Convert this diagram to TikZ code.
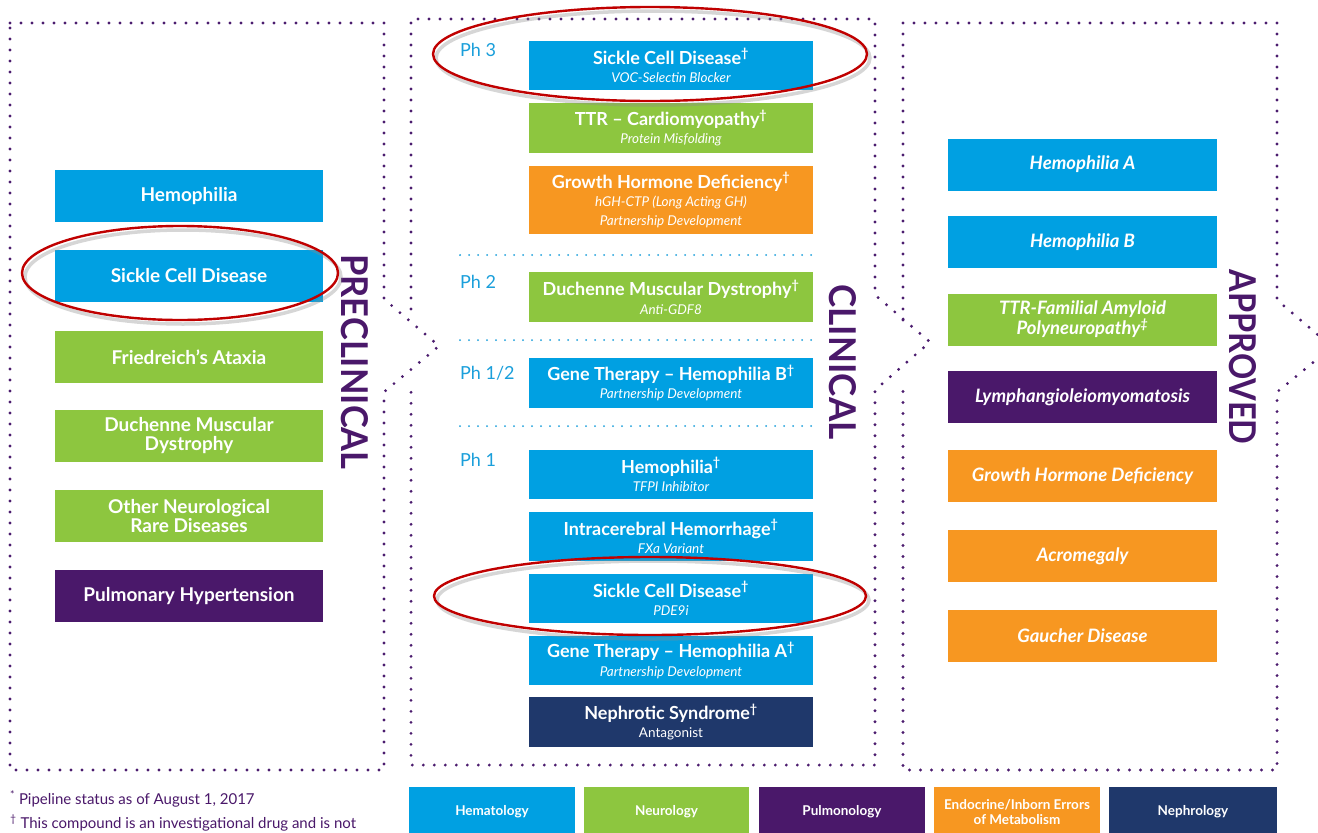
\documentclass[tikz,border=0pt]{standalone}
\usepackage{fontspec}
\setmainfont{Lato}
\usepackage{graphicx}
\definecolor{hblue}{RGB}{0,160,226}
\definecolor{ngreen}{RGB}{141,198,63}
\definecolor{eorange}{RGB}{247,151,33}
\definecolor{ppurple}{RGB}{74,24,106}
\definecolor{nnavy}{RGB}{31,56,107}
\definecolor{dotpurple}{RGB}{75,28,110}
\definecolor{phblue}{RGB}{26,159,219}
\definecolor{ered}{RGB}{192,0,0}
\newcommand\dg{\textsuperscript{†}}
\newcommand\subt[1]{{\fontsize{13.5}{15}\selectfont\mdseries\itshape #1}}
\tikzset{
  dots/.style={draw=dotpurple, line width=3.2pt, line cap=round, dash pattern=on 0pt off 11pt},
  sepline/.style={draw=phblue, line width=2pt, line cap=round, dash pattern=on 0pt off 9pt},
  lbox/.style={rectangle, inner sep=0pt, minimum width=268pt, minimum height=52pt, text=white, align=center,
    font=\fontsize{19}{20}\selectfont\bfseries},
  mbox/.style={rectangle, inner sep=0pt, minimum width=284pt, text=white, align=center,
    font=\fontsize{18}{18.5}\selectfont\bfseries},
  rbox/.style={rectangle, inner sep=0pt, minimum width=269pt, minimum height=52pt, text=white, align=center,
    font=\fontsize{18.5}{19}\selectfont\bfseries\itshape},
  legbox/.style={rectangle, inner sep=0pt, minimum height=50pt, text=white, align=center,
    font=\fontsize{13.5}{15}\selectfont\bfseries},
  phlab/.style={anchor=west, text=phblue, font=\fontsize{18}{19}\selectfont, inner sep=0pt},
  vlab/.style={rotate=-90, text=ppurple, inner sep=0pt, font=\bfseries},
  redell/.style={draw=ered, line width=2.4pt},
  shadell/.style={draw=black!45, opacity=0.35, line width=3.5pt},
  foot/.style={anchor=west, text=ppurple, font=\fontsize{15}{16}\selectfont, inner sep=0pt}
}
\begin{document}
\begin{tikzpicture}[x=1pt,y=-1pt]
\clip (0,0) rectangle (1318,833);
\fill[white] (0,0) rectangle (1318,833);

% dotted stage outlines
\draw[dots] (10,23) -- (384,23) -- (384,299) -- (439,346) -- (384,392) -- (384,770) -- (10,770) -- cycle;
\draw[dots] (411,309) -- (411,19) -- (875,19) -- (875,295) -- (930,342) -- (875,390) -- (875,765) -- (411,765) -- (411,387);
\draw[dots] (903,320) -- (903,23) -- (1277,23) -- (1277,300) -- (1332,347) -- (1277,392) -- (1277,770) -- (903,770) -- (903,390);

% vertical stage labels
\node[vlab] (preLab) at (355,362) {\resizebox{215pt}{27pt}{PRECLINICAL}};
\node[vlab] (cliLab) at (843,362) {\resizebox{155pt}{27pt}{CLINICAL}};
\node[vlab] (appLab) at (1243,357) {\resizebox{175pt}{27pt}{APPROVED}};

% preclinical
\node[lbox, fill=hblue] (p1) at (189,196) {Hemophilia};
\node[lbox, fill=hblue] (p2) at (189,276) {Sickle Cell Disease};
\node[lbox, fill=ngreen] (p3) at (189,357) {Friedreich’s Ataxia};
\node[lbox, fill=ngreen] (p4) at (189,436) {Duchenne Muscular\\[-1pt]Dystrophy};
\node[lbox, fill=ngreen] (p5) at (189,516) {Other Neurological\\[-1pt]Rare Diseases};
\node[lbox, fill=ppurple] (p6) at (189,596) {Pulmonary Hypertension};

% clinical phase labels and separators
\node[phlab] (ph3) at (460,50) {Ph 3};
\node[phlab] (ph2) at (460,282) {Ph 2};
\node[phlab] (ph12) at (460,373) {Ph 1/2};
\node[phlab] (ph1) at (460,460) {Ph 1};
\coordinate (s1a) at (460,255); \coordinate (s1b) at (813,255);
\coordinate (s2a) at (460,340); \coordinate (s2b) at (813,340);
\coordinate (s3a) at (460,426); \coordinate (s3b) at (813,426);
\draw[sepline] (s1a) -- (s1b);
\draw[sepline] (s2a) -- (s2b);
\draw[sepline] (s3a) -- (s3b);

% clinical boxes
\node[mbox, fill=hblue, minimum height=49pt] (c1) at (671,65.5) {Sickle Cell Disease\dg\\\subt{VOC-Selectin Blocker}};
\node[mbox, fill=ngreen, minimum height=50pt] (c2) at (671,128) {TTR – Cardiomyopathy\dg\\\subt{Protein Misfolding}};
\node[mbox, fill=eorange, minimum height=68pt] (c3) at (671,200) {Growth Hormone Deficiency\dg\\\subt{hGH-CTP (Long Acting GH)}\\\subt{Partnership Development}};
\node[mbox, fill=ngreen, minimum height=50pt] (c4) at (671,297) {Duchenne Muscular Dystrophy\dg\\\subt{Anti-GDF8}};
\node[mbox, fill=hblue, minimum height=50pt] (c5) at (671,383) {Gene Therapy – Hemophilia B\dg\\\subt{Partnership Development}};
\node[mbox, fill=hblue, minimum height=49pt] (c6) at (671,474.5) {Hemophilia\dg\\\subt{TFPI Inhibitor}};
\node[mbox, fill=hblue, minimum height=49pt] (c7) at (671,536.5) {Intracerebral Hemorrhage\dg\\\subt{FXa Variant}};
\node[mbox, fill=hblue, minimum height=49pt] (c8) at (671,598.5) {Sickle Cell Disease\dg\\\subt{PDE9i}};
\node[mbox, fill=hblue, minimum height=49pt] (c9) at (671,660.5) {Gene Therapy – Hemophilia A\dg\\\subt{Partnership Development}};
\node[mbox, fill=nnavy, minimum height=50pt] (c10) at (671,722) {Nephrotic Syndrome\dg\\{\fontsize{13.5}{15}\selectfont\mdseries Antagonist}};

% approved
\node[rbox, fill=hblue] (a1) at (1082.5,164.5) {Hemophilia A};
\node[rbox, fill=hblue] (a2) at (1082.5,242) {Hemophilia B};
\node[rbox, fill=ngreen] (a3) at (1082.5,319.5) {TTR-Familial Amyloid\\[0pt]Polyneuropathy\textsuperscript{‡}};
\node[rbox, fill=ppurple] (a4) at (1082.5,397) {Lymphangioleiomyomatosis};
\node[rbox, fill=eorange] (a5) at (1082.5,476) {Growth Hormone Deficiency};
\node[rbox, fill=eorange] (a6) at (1082.5,556) {Acromegaly};
\node[rbox, fill=eorange] (a7) at (1082.5,636) {Gaucher Disease};

% red highlight ellipses (with soft shadow)
\draw[shadell] (183,277) ellipse [x radius=158, y radius=47];
\draw[redell] (180,273) ellipse [x radius=158, y radius=47];
\draw[shadell] (653,58) ellipse [x radius=217, y radius=47];
\draw[redell] (650,54) ellipse [x radius=217, y radius=47];
\draw[shadell] (653,600) ellipse [x radius=216, y radius=39];
\draw[redell] (650,596) ellipse [x radius=216, y radius=39];

% legend
\node[legbox, fill=hblue, minimum width=166pt] (l1) at (492,812) {Hematology};
\node[legbox, fill=ngreen, minimum width=165pt] (l2) at (666.5,812) {Neurology};
\node[legbox, fill=ppurple, minimum width=166pt] (l3) at (842,812) {Pulmonology};
\node[legbox, fill=eorange, minimum width=166pt] (l4) at (1017,812) {Endocrine/Inborn Errors\\of Metabolism};
\node[legbox, fill=nnavy, minimum width=168pt] (l5) at (1193,812) {Nephrology};

% footnotes
\node[foot] (f1) at (10,799) {\textsuperscript{*} Pipeline status as of August 1, 2017};
\node[foot] (f2) at (10,823) {\textsuperscript{†} This compound is an investigational drug and is not};
\end{tikzpicture}
\end{document}
